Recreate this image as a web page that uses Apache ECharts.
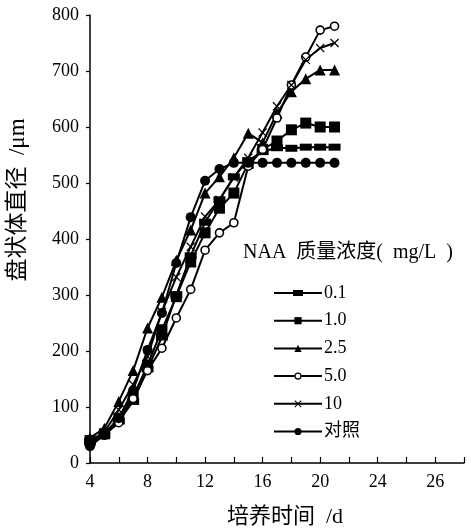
<!DOCTYPE html>
<html>
<head>
<meta charset="utf-8">
<script src="https://cdn.jsdelivr.net/npm/echarts@6/dist/echarts.min.js"></script>
<style>
  html, body { margin: 0; padding: 0; background: #fff; }
  #chart { width: 471px; height: 529px; }
</style>
</head>
<body>
<div id="chart"></div>
<script>
// Culture days (x) and disc diameter (μm) for each NAA concentration
const days = [4, 5, 6, 7, 8, 9, 10, 11, 12, 13, 14, 15, 16, 17, 18, 19, 20, 21];
const naa01 = [38, 50, 75, 110, 168, 225, 300, 370, 430, 470, 511, 540, 556, 563, 562, 564, 564, 564];
const naa10 = [40, 52, 80, 118, 175, 238, 297, 359, 411, 455, 482, 535, 560, 575, 595, 607, 600, 600];
const naa25 = [45, 62, 110, 165, 241, 296, 362, 416, 482, 511, 545, 589, 572, 625, 663, 686, 702, 702];
const naa50 = [33, 50, 72, 115, 165, 205, 259, 310, 380, 411, 429, 530, 560, 616, 675, 725, 773, 780];
const naa100 = [40, 55, 95, 140, 190, 270, 332, 386, 440, 470, 510, 545, 590, 637, 675, 720, 741, 750];
const control = [30, 50, 80, 130, 202, 268, 357, 439, 504, 525, 536, 536, 536, 536, 536, 536, 536, 536];

const seriesNames = ['0.1', '1.0', '2.5', '5.0', '10', '对照'];
const xTickValues = [4, 8, 12, 16, 20, 24, 28];
const xTickLabels = ['4', '8', '12', '16', '20', '24', '26'];

const serif = 'Liberation Serif, Noto Sans CJK SC, serif';
const crossPath = 'path://M0,1L1,0L5,4L9,0L10,1L6,5L10,9L9,10L5,6L1,10L0,9L4,5Z';

// Legend keys drawn as one path (line + marker) inside a 48x9 box
const keyFlatRect = 'path://M0,0M48,9M0,3.5L48,3.5L48,5.5L0,5.5ZM19,1.5L29,1.5L29,7.5L19,7.5Z';
const keyRing = 'path://M0,0M48,9M0,3.5L20.4,3.5L20.4,5.5L0,5.5ZM27.6,3.5L48,3.5L48,5.5L27.6,5.5Z' +
  'M20.4,4.5A3.6,3.6 0 1,1 27.6,4.5A3.6,3.6 0 1,1 20.4,4.5ZM21.6,4.5A2.4,2.4 0 1,0 26.4,4.5A2.4,2.4 0 1,0 21.6,4.5Z';

function pairs(vals) { return days.map((d, i) => [d, vals[i]]); }

function lineSeries(name, vals, symbol, size, hollow) {
  return {
    name: name,
    type: 'line',
    data: pairs(vals),
    symbol: symbol,
    symbolSize: size,
    showAllSymbol: true,
    lineStyle: { color: '#000', width: 2 },
    itemStyle: hollow
      ? { color: '#fff', borderColor: '#000', borderWidth: 1.6 }
      : { color: '#000', borderColor: '#000', borderWidth: 0 },
    emphasis: { disabled: true },
    z: 3
  };
}

const legendData = seriesNames.map(function (n) {
  if (n === '0.1') return { name: n, icon: keyFlatRect, itemStyle: { color: '#000', borderWidth: 0 } };
  if (n === '5.0') return { name: n, icon: keyRing, itemStyle: { color: '#000', borderWidth: 0 } };
  return { name: n };
});

const chart = echarts.init(document.getElementById('chart'), null, { renderer: 'canvas' });
chart.setOption({
  animation: false,
  backgroundColor: '#fff',
  grid: { left: 90, right: 7, top: 15, bottom: 66, containLabel: false },
  xAxis: {
    type: 'value',
    min: 4, max: 30, interval: 2,
    axisLine: { show: true, lineStyle: { color: '#000', width: 1.5 } },
    axisTick: { show: true, inside: true, length: 6, lineStyle: { color: '#000', width: 1.2 } },
    splitLine: { show: false },
    axisLabel: {
      color: '#000', fontFamily: serif, fontSize: 18, margin: 10,
      formatter: function (v) {
        const i = xTickValues.indexOf(v);
        return i >= 0 ? xTickLabels[i] : '';
      }
    }
  },
  yAxis: {
    type: 'value',
    min: 0, max: 800, interval: 100,
    axisLine: { show: true, lineStyle: { color: '#000', width: 1.5 } },
    axisTick: { show: true, inside: false, length: 4, lineStyle: { color: '#000', width: 1.2 } },
    splitLine: { show: false },
    axisLabel: { color: '#000', fontFamily: serif, fontSize: 18, margin: 11 }
  },
  legend: {
    orient: 'vertical',
    left: 268, top: 279,
    itemWidth: 48, itemHeight: 9, itemGap: 9.7,
    data: legendData,
    textStyle: { color: '#000', fontFamily: serif, fontSize: 18, padding: [0, 0, 0, -3] },
    selectedMode: false
  },
  graphic: [
    {
      type: 'text', left: 243, top: 243,
      style: { text: 'NAA  质量浓度(  mg/L  )', fill: '#000', font: '20px ' + serif }
    },
    {
      type: 'text', x: 18, y: 200, rotation: Math.PI / 2,
      style: { text: '盘状体直径  /μm', fill: '#000', font: '23px ' + serif, align: 'center', verticalAlign: 'middle' }
    },
    {
      type: 'text', x: 285, y: 517,
      style: { text: '培养时间  /d', fill: '#000', font: '22px ' + serif, align: 'center', verticalAlign: 'middle' }
    }
  ],
  series: [
    lineSeries('0.1', naa01, 'rect', [12, 7], false),
    lineSeries('1.0', naa10, 'rect', 11, false),
    lineSeries('2.5', naa25, 'triangle', 11, false),
    lineSeries('5.0', naa50, 'circle', 8, true),
    lineSeries('10', naa100, crossPath, 9, false),
    lineSeries('对照', control, 'circle', 10, false)
  ]
});
</script>
</body>
</html>
